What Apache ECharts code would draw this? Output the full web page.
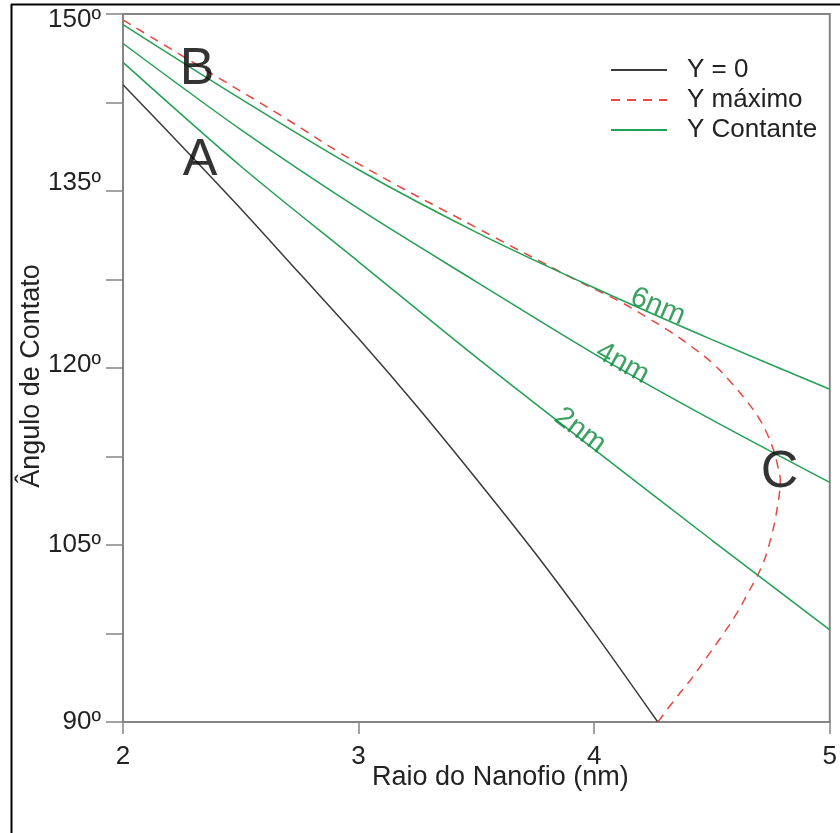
<!DOCTYPE html>
<html>
<head>
<meta charset="utf-8">
<script src="https://cdn.jsdelivr.net/npm/echarts@6/dist/echarts.min.js"></script>
<style>
  html, body { margin: 0; padding: 0; background: #fff; }
  #chart { width: 840px; height: 833px; }
</style>
</head>
<body>
<div id="chart"></div>
<script>
// Wire radius (nm) sampled for the constant-Y curves
const radius = [2, 2.5, 3, 3.5, 4, 4.5, 5];
// Contact angle (deg) for constant Y, one array per film thickness
const angle6nm = [149.1, 142.8, 136.8, 131.5, 126.8, 122.4, 118.2];
const angle4nm = [147.5, 140.2, 133.5, 127.3, 121.2, 115.6, 110.3];
const angle2nm = [145.9, 137.1, 129.0, 120.9, 113.1, 105.4, 97.8];

// Y = 0 curve
const zeroX = [2, 2.25, 2.5, 2.75, 3, 3.25, 3.5, 3.75, 4, 4.27];
const zeroY = [144.0, 138.8, 133.5, 128.0, 122.5, 116.7, 110.6, 104.3, 97.6, 90.0];

// Maximum-Y curve (B -> C -> back to the 90º point)
const maxX = [2.00, 2.33, 2.67, 3.00, 3.50, 3.909, 4.011, 4.121, 4.223, 4.321, 4.414, 4.503, 4.580, 4.647, 4.698, 4.737, 4.762, 4.779, 4.790, 4.787, 4.779, 4.766, 4.745, 4.720, 4.690, 4.652, 4.605, 4.546, 4.482, 4.414, 4.346, 4.27];
const maxY = [149.5, 145.5, 141.4, 137.3, 131.9, 127.6, 126.6, 125.5, 124.3, 123.1, 121.8, 120.4, 118.8, 117.2, 115.8, 114.3, 113.0, 111.7, 110.5, 109.5, 108.4, 106.9, 105.2, 103.6, 102.3, 100.9, 99.2, 97.4, 95.6, 93.7, 92.0, 90.0];

// Curve tags and point letters: [x, y, text, rotation]
const thicknessTags = [
  [4.27, 125.2, '6nm', -23],
  [4.12, 120.4, '4nm', -29],
  [3.94, 114.7, '2nm', -37]
];
const pointTags = [
  [2.327, 137.6, 'A'],
  [2.314, 145.25, 'B'],
  [4.787, 111.1, 'C']
];

const xTickLabels = ['2', '3', '4', '5'];
const yTickLabels = { 90: '90º', 105: '105º', 120: '120º', 135: '135º', 150: '150º' };
const legendNames = ['Y = 0', 'Y máximo', 'Y Contante'];

const FONT = 'Liberation Sans, Arial, sans-serif';
const GREEN = '#22a055';
const AXIS = '#858585';

const zip = (xs, ys) => xs.map((x, i) => [x, ys[i]]);

// vertical nudges for a few y tick labels
const yLabelStyle = {
  v150: { padding: [12, 0, 0, 0] },
  v135: { padding: [0, 0, 16, 0] },
  v120: { padding: [0, 0, 6, 0] },
  v: {}
};

const chart = echarts.init(document.getElementById('chart'));
chart.setOption({
  animation: false,
  backgroundColor: '#fff',
  textStyle: { fontFamily: FONT },
  graphic: [
    { type: 'line', shape: { x1: 11.5, y1: 4, x2: 11.5, y2: 833 }, style: { stroke: '#000', lineWidth: 2 } },
    { type: 'line', shape: { x1: 11, y1: 4.5, x2: 840, y2: 4.5 }, style: { stroke: '#000', lineWidth: 2 } }
  ],
  grid: {
    left: 123, right: 10, top: 14, bottom: 111,
    show: true, borderColor: AXIS, borderWidth: 2
  },
  legend: {
    data: legendNames,
    orient: 'vertical',
    left: 605, top: 52,
    itemWidth: 56, itemHeight: 14, itemGap: 4,
    itemStyle: { opacity: 0 },
    textStyle: { fontSize: 26, color: '#222', fontFamily: FONT, lineHeight: 26, padding: [0, 0, 0, 15] }
  },
  xAxis: {
    type: 'value', min: 2, max: 5, interval: 1,
    name: 'Raio do Nanofio (nm)', nameLocation: 'middle', nameGap: 42, nameMoveOverlap: false,
    nameTextStyle: { fontSize: 27, color: '#222', padding: [0, 0, 0, 48] },
    axisLine: { lineStyle: { color: AXIS, width: 2 } },
    axisTick: { inside: false, length: 12, lineStyle: { color: AXIS, width: 1.5 } },
    axisLabel: { margin: 22, fontSize: 26, color: '#222', formatter: (v) => xTickLabels[Math.round(v - 2)] },
    splitLine: { show: false }
  },
  yAxis: {
    type: 'value', min: 90, max: 150, interval: 7.5,
    name: 'Ângulo de Contato', nameLocation: 'middle', nameGap: 78, nameMoveOverlap: false,
    nameTextStyle: { fontSize: 27, color: '#222', padding: [0, 16, 0, 0] },
    axisLine: { lineStyle: { color: AXIS, width: 2 } },
    axisTick: { inside: false, length: 17, lineStyle: { color: AXIS, width: 1.5 } },
    axisLabel: {
      margin: 22, fontSize: 26, color: '#222',
      formatter: (v) => {
        const t = yTickLabels[v];
        if (!t) return '';
        const key = yLabelStyle['v' + v] ? 'v' + v : 'v';
        return '{' + key + '|' + t + '}';
      },
      rich: yLabelStyle
    },
    splitLine: { show: false }
  },
  series: [
    {
      name: 'Y = 0', type: 'line', data: zip(zeroX, zeroY), smooth: 0.3,
      symbol: 'none', lineStyle: { color: '#3a3a3a', width: 1.5 }, itemStyle: { color: '#555' }
    },
    {
      name: 'Y máximo', type: 'line', data: zip(maxX, maxY), smooth: 0.4,
      symbol: 'none', lineStyle: { color: '#e8473f', width: 1.5, type: [9, 7] }, itemStyle: { color: '#e8473f' }
    },
    {
      name: 'Y Contante', type: 'line', data: zip(radius, angle6nm), smooth: 0.3,
      symbol: 'none', lineStyle: { color: GREEN, width: 1.5 }, itemStyle: { color: GREEN }
    },
    {
      name: 'Y Contante', type: 'line', data: zip(radius, angle4nm), smooth: 0.3,
      symbol: 'none', lineStyle: { color: GREEN, width: 1.5 }, itemStyle: { color: GREEN }
    },
    {
      name: 'Y Contante', type: 'line', data: zip(radius, angle2nm), smooth: 0.3,
      symbol: 'none', lineStyle: { color: GREEN, width: 1.5 }, itemStyle: { color: GREEN }
    },
    {
      name: 'tags', type: 'scatter', symbolSize: 1, itemStyle: { color: 'transparent' },
      data: thicknessTags.map(t => ({
        value: [t[0], t[1]],
        label: { show: true, position: 'inside', formatter: t[2], rotate: t[3], fontSize: 29, color: '#0d8a3c', fontFamily: FONT }
      })),
      silent: true, z: 5
    },
    {
      name: 'points', type: 'scatter', symbolSize: 1, itemStyle: { color: 'transparent' },
      data: pointTags.map(t => ({
        value: [t[0], t[1]],
        label: { show: true, position: 'inside', formatter: t[2], fontSize: 52, color: '#000', fontFamily: FONT }
      })),
      silent: true, z: 5
    }
  ]
});
</script>
</body>
</html>
